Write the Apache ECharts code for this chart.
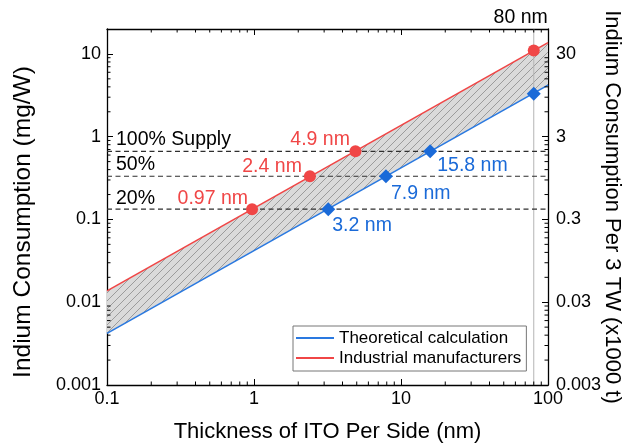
<!DOCTYPE html>
<html><head><meta charset="utf-8">
<script src="https://cdn.jsdelivr.net/npm/echarts@6/dist/echarts.min.js"></script>
<style>html,body{margin:0;padding:0;background:#fff}#c{width:628px;height:445px}</style>
</head><body><div id="c"></div>
<script>
// ---------- data ----------
const xExtent = [0.1, 100];
const yExtent = [0.001, 20];
const xTickLabels = ['0.1', '1', '10', '100'];
const leftTickLabels = ['0.001', '0.01', '0.1', '1', '10'];
const rightTickLabels = ['0.003', '0.03', '0.3', '3', '30'];

const lineX = [0.1, 100];
const theoreticalLine = [0.0042, 4.2];
const industrialLine = [0.0137, 13.7];

const supplyLevels = [0.665, 0.3325, 0.133];
const supplyNames = ['100% Supply', '50%', '20%'];

const industrialPtX = [0.97, 2.4, 4.9, 80];
const industrialPtY = [0.133, 0.3325, 0.665, 11];
const industrialPtLabels = ['0.97 nm', '2.4 nm', '4.9 nm', ''];
const theoreticalPtX = [3.2, 7.9, 15.8, 80];
const theoreticalPtY = [0.133, 0.3325, 0.665, 3.3];
const theoreticalPtLabels = ['3.2 nm', '7.9 nm', '15.8 nm', ''];
const markerThickness = 80;
const markerLabel = '80 nm';

// ---------- styles ----------
const FONT = '"Liberation Sans", Arial, sans-serif';
const RED = '#f04646';
const BLUE = '#2a79e0';
const BLUE_MK = '#1a6ad8';
const redLabelOffsets = [[-4, -11], [-8, -10], [-5.5, -12]];
const blueLabelOffsets = [[4, 16], [5, 17], [7, 14.5]];
const supplyLabelOffsets = [[9, -12], [9, -12], [9, -11]];

function isPow10(v) { const l = Math.log10(v); return Math.abs(l - Math.round(l)) < 1e-6; }

// minor tick values (2..9 x 10^k)
const minorX = [], minorY = [];
for (let e = -1; e < 2; e++) for (let m = 2; m <= 9; m++) minorX.push(m * Math.pow(10, e));
for (let e = -3; e < 2; e++) for (let m = 2; m <= 9; m++) { const v = m * Math.pow(10, e); if (v < yExtent[1]) minorY.push(v); }

// hatch pattern
const T = 8;
const pat = document.createElement('canvas');
pat.width = T; pat.height = T;
(function () {
  const g = pat.getContext('2d');
  g.fillStyle = '#dadada'; g.fillRect(0, 0, T, T);
  g.strokeStyle = '#8a8a8a'; g.lineWidth = 0.8;
  g.beginPath();
  g.moveTo(-1, T + 1); g.lineTo(T + 1, -1);
  g.moveTo(-1, 1); g.lineTo(1, -1);
  g.moveTo(T - 1, T + 1); g.lineTo(T + 1, T - 1);
  g.stroke();
})();

const chart = echarts.init(document.getElementById('c'), null, { renderer: 'canvas' });

const tickLine = { show: true, inside: true, length: 6, lineStyle: { color: '#000', width: 1 } };
const axLine = { show: true, lineStyle: { color: '#000', width: 1.3 } };
const labelFont = { fontFamily: FONT, fontSize: 18, color: '#000' };
const nameFont = { fontFamily: FONT, fontSize: 22, color: '#000' };

const series = [];

// hatched band
series.push({
  type: 'custom', name: 'band', silent: true, z: 1,
  xAxisIndex: 0, yAxisIndex: 0, clip: true,
  data: [[lineX[0], theoreticalLine[0]]],
  renderItem: function (params, api) {
    const pts = [
      api.coord([lineX[0], theoreticalLine[0]]),
      api.coord([lineX[1], theoreticalLine[1]]),
      api.coord([lineX[1], industrialLine[1]]),
      api.coord([lineX[0], industrialLine[0]])
    ];
    return { type: 'polygon', shape: { points: pts }, style: { fill: { image: pat, repeat: 'repeat' }, stroke: null } };
  }
});

// vertical 80 nm line
series.push({
  type: 'line', name: 'v80', silent: true, z: 2, symbol: 'none',
  data: [[markerThickness, yExtent[0]], [markerThickness, yExtent[1]]],
  lineStyle: { color: '#b4b4b4', width: 1 }
});

// dashed supply lines
supplyLevels.forEach(function (lv, i) {
  series.push({
    type: 'line', name: 'supply' + i, silent: true, z: 3, symbol: 'none',
    data: [[lineX[0], lv], [lineX[1], lv]],
    lineStyle: { color: '#2e2e2e', width: 1.2, type: [5, 3.5] }
  });
});

// main lines
series.push({
  type: 'line', name: 'Theoretical calculation', z: 4, symbol: 'none', color: BLUE,
  data: lineX.map(function (x, i) { return [x, theoreticalLine[i]]; }),
  lineStyle: { color: BLUE, width: 1.6 }, itemStyle: { color: BLUE }
});
series.push({
  type: 'line', name: 'Industrial manufacturers', z: 4, symbol: 'none', color: RED,
  data: lineX.map(function (x, i) { return [x, industrialLine[i]]; }),
  lineStyle: { color: RED, width: 1.6 }, itemStyle: { color: RED }
});

// points
series.push({
  type: 'scatter', name: 'industrialPts', z: 5, symbol: 'circle', symbolSize: 12, silent: true,
  itemStyle: { color: RED, opacity: 1 },
  data: industrialPtX.map(function (x, i) {
    return {
      value: [x, industrialPtY[i]],
      label: industrialPtLabels[i] ? {
        show: true, formatter: industrialPtLabels[i], position: 'inside', align: 'right', verticalAlign: 'middle',
        offset: redLabelOffsets[i], color: RED, fontSize: 19.5, fontFamily: FONT
      } : { show: false }
    };
  })
});
series.push({
  type: 'scatter', name: 'theoreticalPts', z: 5, symbol: 'diamond', symbolSize: 14, silent: true,
  itemStyle: { color: BLUE_MK, opacity: 1 },
  data: theoreticalPtX.map(function (x, i) {
    return {
      value: [x, theoreticalPtY[i]],
      label: theoreticalPtLabels[i] ? {
        show: true, formatter: theoreticalPtLabels[i], position: 'inside', align: 'left', verticalAlign: 'middle',
        offset: blueLabelOffsets[i], color: BLUE_MK, fontSize: 19.5, fontFamily: FONT
      } : { show: false }
    };
  })
});

// text labels (supply + 80 nm)
series.push({
  type: 'scatter', name: 'texts', z: 6, symbolSize: 1, silent: true,
  itemStyle: { color: 'rgba(0,0,0,0)', opacity: 1 },
  data: supplyLevels.map(function (lv, i) {
    return {
      value: [xExtent[0], lv],
      label: { show: true, formatter: supplyNames[i], position: 'inside', align: 'left', verticalAlign: 'middle',
        offset: supplyLabelOffsets[i], color: '#000', fontSize: 19.5, fontFamily: FONT }
    };
  }).concat([{
    value: [markerThickness, yExtent[1]],
    label: { show: true, formatter: markerLabel, position: 'inside', align: 'right', verticalAlign: 'middle',
      offset: [14, -11], color: '#000', fontSize: 19.5, fontFamily: FONT }
  }])
});

// minor ticks
series.push({
  type: 'custom', name: 'minor', silent: true, z: 10, clip: false,
  data: minorX.map(function (v) { return [v, yExtent[0], 0]; }).concat(minorY.map(function (v) { return [xExtent[0], v, 1]; })),
  renderItem: function (params, api) {
    const kind = api.value(2);
    const L = 3.5;
    const st = { stroke: '#000', lineWidth: 1 };
    if (kind === 0) {
      const v = api.value(0);
      const b = api.coord([v, yExtent[0]]), t = api.coord([v, yExtent[1]]);
      return { type: 'group', children: [
        { type: 'line', shape: { x1: b[0], y1: b[1], x2: b[0], y2: b[1] - L }, style: st },
        { type: 'line', shape: { x1: t[0], y1: t[1], x2: t[0], y2: t[1] + L }, style: st }
      ] };
    } else {
      const v = api.value(1);
      const l = api.coord([xExtent[0], v]), r = api.coord([xExtent[1], v]);
      return { type: 'group', children: [
        { type: 'line', shape: { x1: l[0], y1: l[1], x2: l[0] + L, y2: l[1] }, style: st },
        { type: 'line', shape: { x1: r[0], y1: r[1], x2: r[0] - L, y2: r[1] }, style: st }
      ] };
    }
  }
});

const option = {
  animation: false,
  backgroundColor: '#fff',
  textStyle: { fontFamily: FONT },
  grid: { left: 107, right: 80, top: 29, bottom: 60, containLabel: false, outerBoundsMode: 'none' },
  legend: {
    data: ['Theoretical calculation', 'Industrial manufacturers'],
    orient: 'vertical', left: 293, top: 326,
    icon: 'rect', itemWidth: 38, itemHeight: 2, itemGap: 2,
    borderColor: '#777', borderWidth: 1, borderRadius: 0,
    padding: [3, 5, 4, 3], backgroundColor: '#fff',
    textStyle: { fontFamily: FONT, fontSize: 17, color: '#000', lineHeight: 18 },
    selectedMode: false
  },
  xAxis: [{
    type: 'log', logBase: 10, min: xExtent[0], max: xExtent[1], position: 'bottom',
    name: 'Thickness of ITO Per Side (nm)', nameLocation: 'middle', nameGap: 36, nameTextStyle: nameFont,
    nameMoveOverlap: false,
    axisLine: axLine, axisTick: tickLine, splitLine: { show: false },
    axisLabel: Object.assign({ margin: 5, formatter: function (v) {
      if (!isPow10(v)) return ''; return xTickLabels[Math.round(Math.log10(v)) + 1] || ''; } }, labelFont)
  }, {
    type: 'log', logBase: 10, min: xExtent[0], max: xExtent[1], position: 'top',
    axisLine: axLine, axisTick: tickLine, splitLine: { show: false }, axisLabel: { show: false }
  }],
  yAxis: [{
    type: 'log', logBase: 10, min: yExtent[0], max: yExtent[1], position: 'left',
    name: 'Indium Consumption (mg/W)', nameLocation: 'middle', nameGap: 71, nameMoveOverlap: false,
    nameTextStyle: Object.assign({}, nameFont, { fontSize: 24.5, padding: [0, 30, 0, 0] }),
    axisLine: axLine, axisTick: tickLine, splitLine: { show: false },
    axisLabel: Object.assign({ margin: 6, formatter: function (v) {
      if (!isPow10(v)) return ''; return leftTickLabels[Math.round(Math.log10(v)) + 3] || ''; } }, labelFont)
  }, {
    type: 'log', logBase: 10, min: yExtent[0], max: yExtent[1], position: 'right',
    name: 'Indium Consumption Per 3 TW (x1000 t)', nameLocation: 'middle', nameGap: 53, nameRotate: -90,
    nameMoveOverlap: false,
    nameTextStyle: nameFont,
    axisLine: axLine, axisTick: tickLine, splitLine: { show: false },
    axisLabel: Object.assign({ margin: 8, formatter: function (v) {
      if (!isPow10(v)) return ''; return rightTickLabels[Math.round(Math.log10(v)) + 3] || ''; } }, labelFont)
  }],
  series: series
};
chart.setOption(option);
</script>
</body></html>
